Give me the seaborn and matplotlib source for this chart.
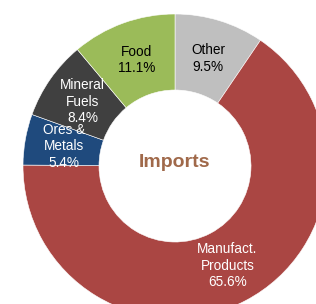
import numpy as np
import seaborn as sns
from matplotlib import pyplot as plt

#%%
# Dados
categorias = ["Other", "Manufact.\nProducts", "Ores &\nMetals", "Mineral\nFuels", "Food"]
valores = [9.5, 65.6, 5.4, 8.4, 11.1]
cores = ["#BFBFBF", "#AA4643", "#1F4A7D", "#404040", "#9BBB59"]
cor_texto = ["black", "white", "white", "white", "black"]

#%%
sns.set_theme(style="white")
plt.rcParams['font.family'] = ['Liberation Sans', 'DejaVu Sans']

fig = plt.figure(figsize=(3.16, 3.04), dpi=100)
# eixo maior que a figura, o donut fica cortado embaixo e à direita
ax = fig.add_axes([23 / 316, -14 / 304, 304 / 316, 1.0])

wedges, _ = ax.pie(valores, colors=cores, startangle=90, counterclock=False,
                   radius=1.0, wedgeprops=dict(width=0.5, edgecolor="white", linewidth=0.4))

# rótulos no meio de cada fatia
for w, cat, v, c in zip(wedges, categorias, valores, cor_texto):
    ang = np.deg2rad((w.theta1 + w.theta2) / 2)
    r = 0.74
    ax.text(r * np.cos(ang), r * np.sin(ang), f"{cat}\n{v}%", ha="center", va="center",
            fontsize=9.8, color=c, linespacing=1.2)

ax.text(0, 0.02, "Imports", ha="center", va="center", fontsize=14,
        fontweight="bold", color="#A0694A")

ax.set_xlim(-1, 1)
ax.set_ylim(-1, 1)
ax.set_aspect("equal")
ax.axis("off")

fig.savefig("out.png", dpi=100)
